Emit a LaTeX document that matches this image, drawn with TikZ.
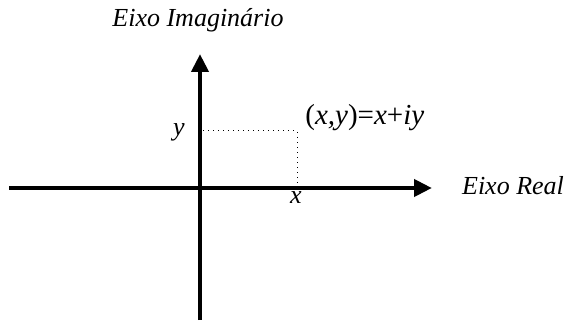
\documentclass[tikz,border=0pt]{standalone}
\usepackage{fontspec}
\setmainfont{Liberation Serif}
\usetikzlibrary{arrows.meta}

\begin{document}
\begin{tikzpicture}[x=0.5pt,y=-0.5pt,
    axis/.style={line width=2.4pt,-{Triangle[length=9pt,width=8.4pt]}},
    guide/.style={dotted,line width=0.5pt},
    lbl/.style={font=\fontsize{13}{15}\selectfont\itshape,inner sep=0pt}]
  \useasboundingbox (0,0) rectangle (565,320);
  % axes
  \coordinate (re0) at (9,188);
  \coordinate (re1) at (432,188);
  \coordinate (im0) at (200,320);
  \coordinate (im1) at (200,54);
  \draw[axis] (re0)--(re1);
  \draw[axis] (im0)--(im1);
  \node[lbl] (realname) at (513,186) {Eixo Real};
  \node[lbl] (imagname) at (198,20) {Eixo Imaginário};
  % the point z and its projections
  \coordinate (z) at (297,131);
  \coordinate (zx) at (297,188);
  \coordinate (zy) at (203,131);
  \draw[guide] (zy)--(z)--(zx);
  \node[lbl] (xlbl) at (296,198) {x};
  \node[lbl] (ylbl) at (179,132) {y};
  \node[lbl,font=\fontsize{14.5}{16}\selectfont\itshape,anchor=west] (zlbl) at (305,118)
    {\upshape(\itshape x,y\upshape)=\itshape x\upshape+\itshape iy};
\end{tikzpicture}
\end{document}
